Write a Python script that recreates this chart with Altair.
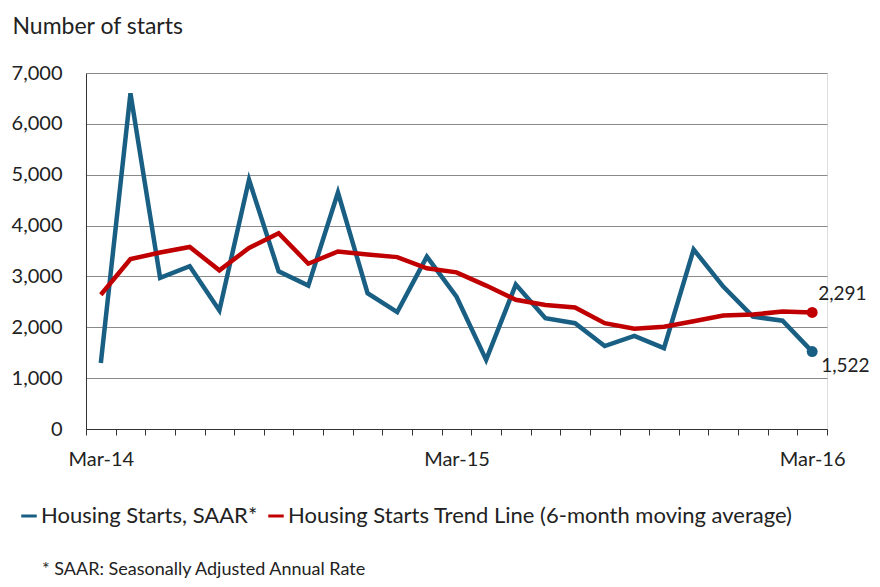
import altair as alt
import pandas as pd

months = ["Mar-14", "Apr-14", "May-14", "Jun-14", "Jul-14", "Aug-14", "Sep-14", "Oct-14",
          "Nov-14", "Dec-14", "Jan-15", "Feb-15", "Mar-15", "Apr-15", "May-15", "Jun-15",
          "Jul-15", "Aug-15", "Sep-15", "Oct-15", "Nov-15", "Dec-15", "Jan-16", "Feb-16", "Mar-16"]
starts = [1300, 6600, 2970, 3200, 2330, 4900, 3100, 2820, 4650, 2670, 2300, 3390,
          2600, 1360, 2840, 2180, 2080, 1630, 1830, 1590, 3530, 2800, 2210, 2130, 1522]
trend = [2640, 3340, 3470, 3580, 3120, 3560, 3850, 3250, 3490, 3430, 3380, 3160,
         3080, 2820, 2540, 2440, 2390, 2080, 1970, 2010, 2120, 2230, 2250, 2310, 2291]
y_ticks = [0, 1000, 2000, 3000, 4000, 5000, 6000, 7000]

S1 = "Housing Starts, SAAR*"
S2 = "Housing Starts Trend Line (6-month moving average)"
BLUE = "#195f84"
RED = "#c00000"
FONT = "Lato"
FS_AX = 20
FS_BIG = 23
TXT = "#222222"

df1 = pd.DataFrame({"month": months, "value": starts, "series": S1})
df2 = pd.DataFrame({"month": months, "value": trend, "series": S2})

x = alt.X("month:N", sort=months, bandPosition=0.5,
          scale=alt.Scale(type="band", paddingInner=0, paddingOuter=0),
          axis=alt.Axis(title=None, tickBand="extent", labelAngle=0,
                        labelExpr="indexof(datum.label, 'Mar') == 0 ? datum.label : ''",
                        grid=False, domainColor="#333333", tickColor="#333333",
                        tickSize=6, labelPadding=14, labelFontSize=FS_AX,
                        labelFont=FONT, labelColor=TXT))
y = alt.Y("value:Q", scale=alt.Scale(domain=[0, 7000], nice=False),
          axis=alt.Axis(title="Number of starts", titleAngle=0, titleAlign="left",
                        titleX=-74, titleY=-40, titleBaseline="alphabetic",
                        titleFont=FONT, titleFontSize=FS_BIG, titleFontWeight="normal",
                        titleColor=TXT, values=y_ticks,
                        format=",.0f", ticks=False, labelPadding=24, labelFontSize=FS_AX,
                        labelFont=FONT, labelColor=TXT,
                        domainColor="#333333", gridColor="#8a8a8a", gridWidth=1.2))
color = alt.Color("series:N", scale=alt.Scale(domain=[S1, S2], range=[BLUE, RED]),
                  legend=alt.Legend(title=None, orient="none", direction="horizontal",
                                    legendX=-68, legendY=432, symbolType="stroke",
                                    symbolSize=240, symbolStrokeWidth=3,
                                    labelFont=FONT, labelFontSize=22, labelColor=TXT,
                                    labelOffset=1, columnPadding=4, labelLimit=700))

blue_line = alt.Chart(df1).mark_line(strokeWidth=4.5).encode(x=x, y=y, color=color)
red_line = alt.Chart(df2).mark_line(strokeWidth=4.5).encode(x=x, y=y, color=color)

last1 = df1.tail(1)
last2 = df2.tail(1)
pt1 = alt.Chart(last1).mark_point(filled=True, size=120, opacity=1).encode(x=x, y=y, color=color)
pt2 = alt.Chart(last2).mark_point(filled=True, size=120, opacity=1).encode(x=x, y=y, color=color)

lab2 = alt.Chart(last2).mark_text(align="left", dx=6, dy=-18, fontSize=19, font=FONT,
                                  color=TXT).encode(x=x, y=y, text=alt.Text("value:Q", format=",.0f"))
lab1 = alt.Chart(last1).mark_text(align="left", dx=9, dy=14, fontSize=19, font=FONT,
                                  color=TXT).encode(x=x, y=y, text=alt.Text("value:Q", format=",.0f"))

note = alt.Chart(pd.DataFrame({"t": ["* SAAR: Seasonally Adjusted Annual Rate"]})).mark_text(
    align="left", baseline="middle", fontSize=18, font=FONT, color=TXT
).encode(text="t:N", x=alt.value(-44), y=alt.value(497))

chart = alt.layer(blue_line, red_line, pt1, pt2, lab1, lab2, note).properties(
    width=741, height=356,
    autosize=alt.AutoSizeParams(type="none"),
    padding={"left": 78, "top": 65, "right": 45, "bottom": 150},
).configure_view(stroke=None).configure(background="white")

chart.save("out.html", embed_options={"renderer": "svg", "actions": False})
